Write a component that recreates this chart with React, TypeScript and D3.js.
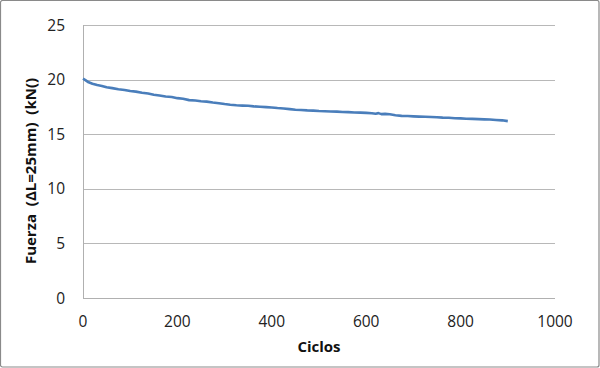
import React from "react";
import * as d3 from "d3";

const cycles = [0, 5, 12, 20, 30, 40, 50, 62, 75, 88, 100, 112, 125, 138, 150, 162, 175, 188, 200, 212, 225, 238, 250, 262, 275, 288, 300, 312, 325, 338, 350, 362, 375, 388, 400, 412, 425, 438, 450, 462, 475, 488, 500, 512, 525, 538, 550, 562, 575, 588, 600, 612, 620, 626, 632, 640, 650, 662, 675, 688, 700, 712, 725, 738, 750, 762, 775, 788, 800, 812, 825, 838, 850, 862, 875, 888, 900];
const force = [20.08, 19.95, 19.75, 19.62, 19.5, 19.42, 19.3, 19.22, 19.12, 19.05, 18.95, 18.9, 18.8, 18.72, 18.62, 18.55, 18.45, 18.4, 18.3, 18.24, 18.12, 18.08, 18.02, 17.98, 17.9, 17.84, 17.76, 17.7, 17.65, 17.62, 17.6, 17.55, 17.52, 17.48, 17.45, 17.4, 17.36, 17.3, 17.24, 17.22, 17.18, 17.16, 17.12, 17.1, 17.08, 17.07, 17.03, 17.02, 16.99, 16.98, 16.95, 16.92, 16.88, 16.93, 16.84, 16.86, 16.82, 16.74, 16.68, 16.66, 16.63, 16.61, 16.6, 16.58, 16.55, 16.52, 16.5, 16.46, 16.45, 16.42, 16.4, 16.38, 16.36, 16.34, 16.3, 16.27, 16.2];

const xTicks = [0, 200, 400, 600, 800, 1000];
const yTicks = [0, 5, 10, 15, 20, 25];
const xTitle = "Ciclos";
const yTitle = "Fuerza  (ΔL=25mm)  (kN()";

export default function App() {
  const W = 600, H = 368;
  const left = 83, right = 555, top = 25, bottom = 298;
  const x = d3.scaleLinear().domain([0, 1000]).range([left, right]);
  const y = d3.scaleLinear().domain([0, 25]).range([bottom, top]);
  const line = d3.line<number>().x((_, i) => x(cycles[i])).y((d) => y(d)).curve(d3.curveLinear);
  const font = "'Open Sans', 'Liberation Sans', sans-serif";
  return (
    <svg width={W} height={H} style={{ position: "absolute", left: 0, top: 0 }} fontFamily={font}>
      <rect x={0} y={0} width={W} height={H} fill="#fff" />
      <rect x={0.5} y={0.5} width={W - 1.5} height={H - 1.5} fill="none" stroke="#8a8a8a" strokeWidth={1.2} rx={2} />
      {yTicks.map((t) => (
        <g key={"y" + t}>
          {t > 0 && (
            <line x1={left} x2={right} y1={Math.round(y(t)) + 0.5} y2={Math.round(y(t)) + 0.5} stroke="#b8b8b8" strokeWidth={1} />
          )}
          <text x={left - 18} y={y(t)} dy="0.36em" textAnchor="end" fontSize={15.5} fill="#222">{t}</text>
        </g>
      ))}
      <line x1={left + 0.5} x2={left + 0.5} y1={top} y2={bottom} stroke="#b0b0b0" />
      <line x1={left} x2={right} y1={bottom + 0.5} y2={bottom + 0.5} stroke="#b0b0b0" />
      {xTicks.map((t) => (
        <text key={"x" + t} x={x(t)} y={bottom + 29} textAnchor="middle" fontSize={15.5} fill="#222">{t}</text>
      ))}
      <path d={line(force) || ""} fill="none" stroke="#4a7ebb" strokeWidth={2.6} strokeLinejoin="round" />
      <text x={(left + right) / 2} y={352} textAnchor="middle" fontSize={15} fontWeight="bold" fill="#111">{xTitle}</text>
      <text transform={`translate(36,171) rotate(-90)`} textAnchor="middle" fontSize={15} fontWeight="bold" fill="#111" style={{ whiteSpace: "pre" }}>{yTitle}</text>
    </svg>
  );
}
